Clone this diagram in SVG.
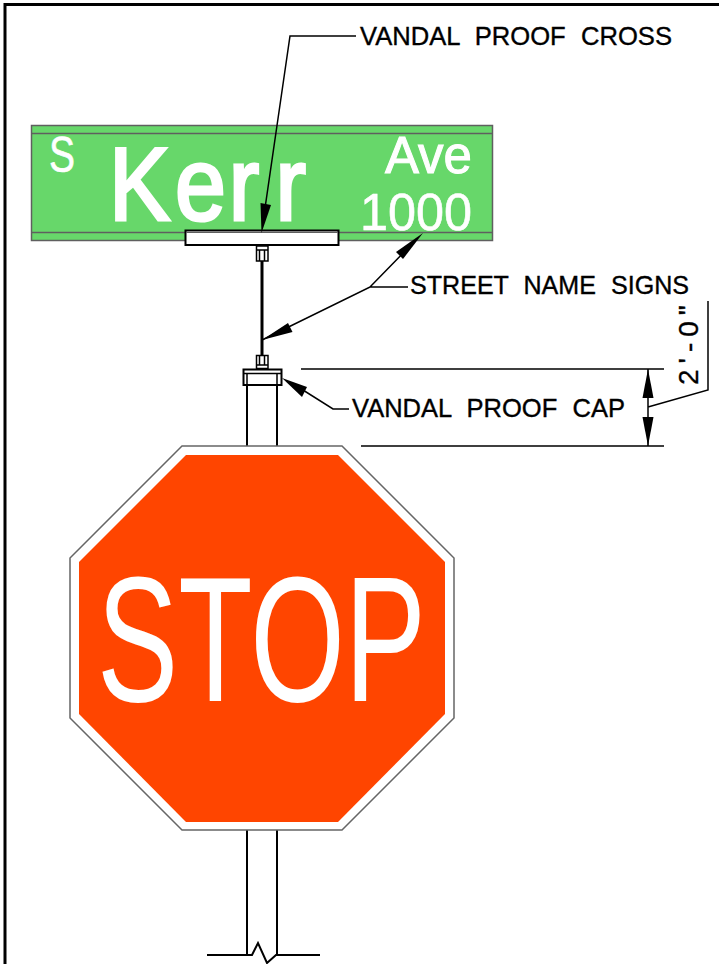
<svg xmlns="http://www.w3.org/2000/svg" width="719" height="964" viewBox="0 0 719 964">
<defs>
<style>
.l{fill:none;stroke:#000;stroke-width:1.5}
.h{fill:none;stroke:#000;stroke-width:2.5}
.g{fill:none;stroke:#5f5f5f;stroke-width:1.5}
.a{fill:#000;stroke:none}
.t{font-family:"Liberation Sans",Arial,sans-serif;font-size:25px;fill:#000;stroke:#000;stroke-width:.35}
.w{font-family:"Liberation Sans",Arial,sans-serif;fill:#fff;stroke:#fff}
</style>
</defs>
<rect width="719" height="964" fill="#fff"/>
<g id="frame"><path class="h" d="M5 964V4.500H719" style="stroke-width:3"/></g>
<g id="street-sign">
<rect x="31.500" y="125.500" width="461" height="115" fill="#67d76a" stroke="#5f5f5f" stroke-width="1.500"/>
<path class="g" d="M32 133.500H492M32 232.500H492"/>
<text class="w" x="49" y="172" font-size="50" stroke-width=".6" textLength="26" lengthAdjust="spacingAndGlyphs">S</text>
<text class="w" transform="scale(.88 1)" x="124 199 260 313" y="220" font-size="104" stroke-width="3.200">Kerr</text>
<text class="w" x="385" y="173" font-size="51" stroke-width="1" textLength="87" lengthAdjust="spacingAndGlyphs">Ave</text>
<text class="w" x="360" y="230" font-size="51" stroke-width=".6" textLength="112" lengthAdjust="spacingAndGlyphs">1000</text>
</g>
<g id="cross-bracket">
<rect x="185.500" y="230.500" width="153" height="14.500" fill="#fff" stroke="#000" stroke-width="2"/>
<path class="g" d="M186 232.500H338" style="stroke-width:1"/>
<rect x="256.500" y="246" width="11.500" height="15" fill="#fff" stroke="#000" stroke-width="1.500"/>
<path class="l" d="M259.500 250V261M264.500 250V261M257 250H268"/>
<path class="h" d="M262 261V355" style="stroke-width:3"/>
</g>
<g id="cap">
<rect x="256.500" y="355.500" width="11.500" height="13" fill="#fff" stroke="#000" stroke-width="1.500"/>
<path class="l" d="M259.500 355.500V365M264.500 355.500V365M257 365H268"/>
<rect x="243.500" y="369.500" width="38" height="15.500" fill="#fff" stroke="#000" stroke-width="2"/>
<path class="l" d="M244 373.500H281M247 373.500V385M277 373.500V385"/>
</g>
<g id="post">
<path class="h" d="M247 385V446M277 385V446M247 830V955M277 830V955" style="stroke-width:2"/>
<path class="h" d="M207 955H252L258 943L267 963L276 955H320" style="stroke-width:2"/>
</g>
<g id="stop-sign">
<polygon points="182,446 342,446 454,558 454,718 342,830 182,830 70,718 70,558" fill="#fff" stroke="#666" stroke-width="1.500"/>
<polygon points="186,455 338,455 445,562 445,714 338,822 186,822 79,714 79,562" fill="#ff4500"/>
<text class="w" x="97" y="701" font-size="178" stroke-width="0" textLength="329" lengthAdjust="spacingAndGlyphs">STOP</text>
</g>
<g id="connectors">
<path class="l" d="M356 36H290L264 215"/>
<polygon class="a" points="261.500,233 260.500,203 271,205"/>
<path class="l" d="M408 287H370L262 340M370 287L410 246"/>
<polygon class="a" points="262,340 288,323 292.500,332"/>
<polygon class="a" points="423,233 396,252 403,259"/>
<path class="l" d="M349 409H333L295 385"/>
<polygon class="a" points="282,378 307,387 302,397"/>
<path class="l" d="M301 369H664M361 446H664M648 369V446M648 407L708 390V301"/>
<polygon class="a" points="648,369 653.500,398 642.500,398"/>
<polygon class="a" points="648,446 653.500,417 642.500,417"/>
</g>
<g id="labels">
<text class="t" x="360" y="45" textLength="312" lengthAdjust="spacingAndGlyphs" word-spacing="8">VANDAL PROOF CROSS</text>
<text class="t" x="410" y="294" textLength="279" lengthAdjust="spacingAndGlyphs" word-spacing="8">STREET NAME SIGNS</text>
<text class="t" x="352" y="417" textLength="273" lengthAdjust="spacingAndGlyphs" word-spacing="8">VANDAL PROOF CAP</text>
<text class="t" transform="translate(698 385) rotate(-90)" style="font-size:28px;letter-spacing:6px">2'-0"</text>
</g>
</svg>
